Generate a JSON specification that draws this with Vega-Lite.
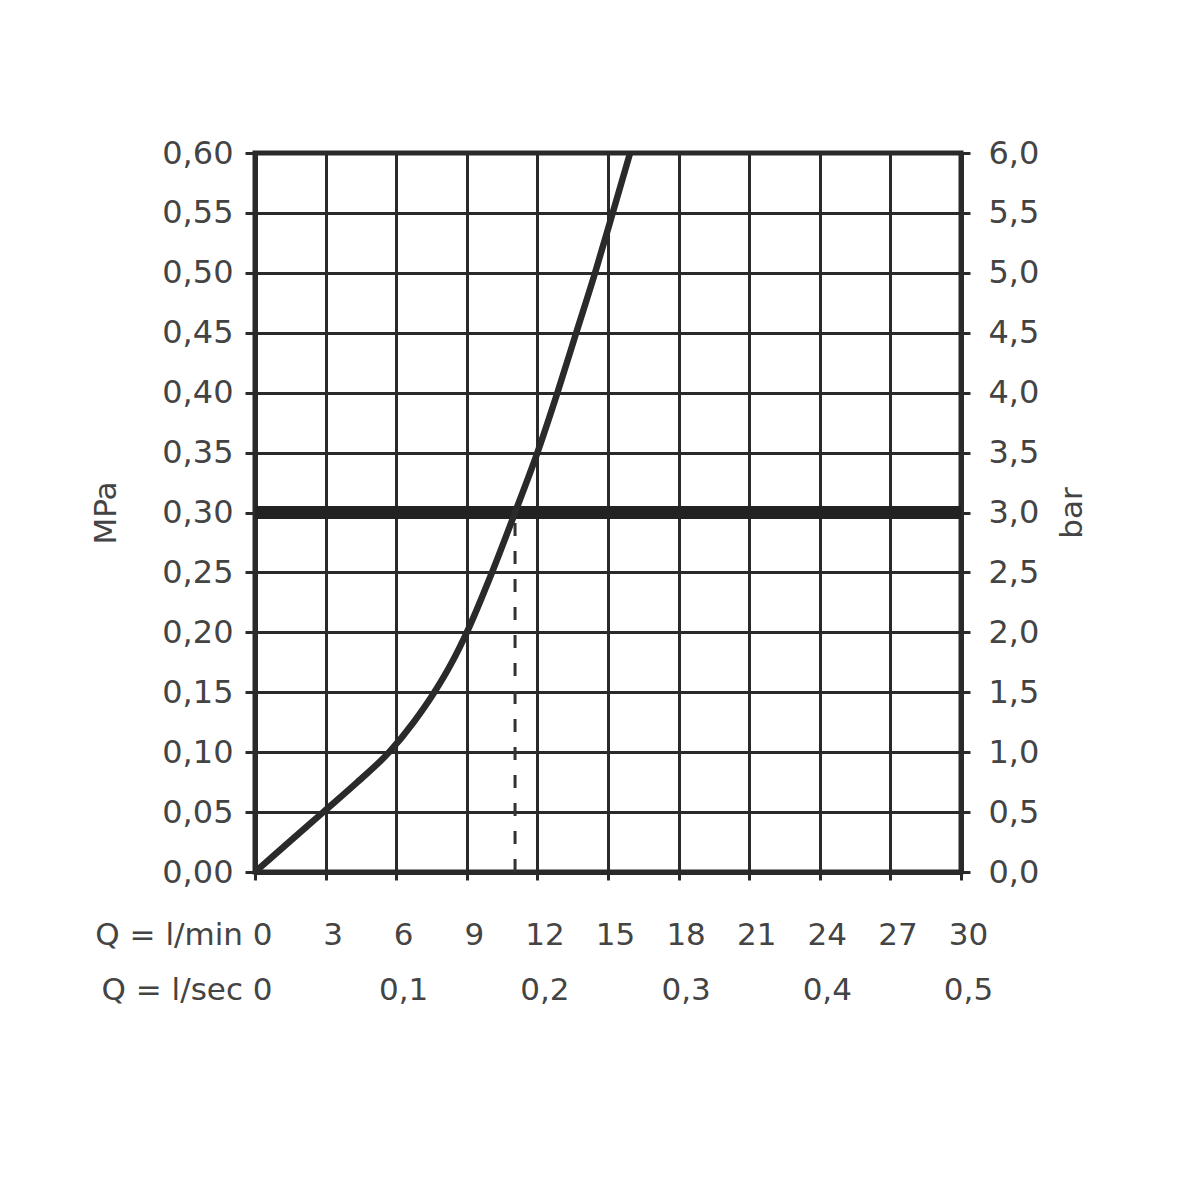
{
  "$schema": "https://vega.github.io/schema/vega-lite/v6.json",
  "width": 706,
  "height": 719,
  "autosize": {"type": "none"},
  "padding": {"left": 255, "top": 153, "right": 239, "bottom": 328},
  "background": "white",
  "config": {
    "view": {"stroke": "#2a2a2a", "strokeWidth": 5},
    "axis": {
      "labelFont": "DejaVu Sans",
      "titleFont": "DejaVu Sans",
      "labelColor": "#444444",
      "titleColor": "#444444",
      "labelFontSize": 31,
      "titleFontSize": 31,
      "titleFontWeight": "normal",
      "domainColor": "#2a2a2a",
      "domainWidth": 5,
      "tickColor": "#2a2a2a",
      "tickWidth": 3,
      "gridColor": "#2a2a2a",
      "gridWidth": 3,
      "gridOpacity": 1
    }
  },
  "datasets": {
    "curve": [
      {"q": 0, "p": 0},
      {"q": 1.45, "p": 0.025},
      {"q": 2.9, "p": 0.05},
      {"q": 4.35, "p": 0.075},
      {"q": 5.7, "p": 0.1},
      {"q": 6.74, "p": 0.125},
      {"q": 7.62, "p": 0.15},
      {"q": 8.37, "p": 0.175},
      {"q": 9.0, "p": 0.2},
      {"q": 10.07, "p": 0.25},
      {"q": 11.05, "p": 0.3},
      {"q": 12.0, "p": 0.35},
      {"q": 12.85, "p": 0.4},
      {"q": 13.65, "p": 0.45},
      {"q": 14.45, "p": 0.5},
      {"q": 15.2, "p": 0.55},
      {"q": 15.94, "p": 0.6}
    ],
    "limit": [{"p": 0.3}],
    "marker": [{"q": 11.05, "p0": 0, "p1": 0.3}]
  },
  "layer": [
    {
      "data": {"name": "marker"},
      "mark": {"type": "rule", "stroke": "#333333", "strokeWidth": 3, "strokeDash": [13, 15]},
      "encoding": {
        "x": {
          "field": "q", "type": "quantitative",
          "scale": {"domain": [0, 30]},
          "axis": {
            "orient": "bottom",
            "values": [0, 3, 6, 9, 12, 15, 18, 21, 24, 27, 30],
            "grid": true,
            "title": null,
            "tickSize": 8,
            "labelPadding": 40,
            "labelFlush": false,
            "labelOverlap": false,
            "labelBound": false,
            "labelLineHeight": 55,
            "labelExpr": "datum.value == 0 ? ['Q = l/min 0', 'Q = l/sec 0'] : [format(datum.value, 'd'), datum.value % 6 == 0 ? replace(format(datum.value / 60, '.1f'), '.', ',') : '']",
            "labelAlign": {"condition": {"test": "datum.value == 0", "value": "right"}, "value": "center"},
            "labelOffset": {"condition": {"test": "datum.value == 0", "value": 17}, "value": 7}
          }
        },
        "y": {
          "field": "p0", "type": "quantitative",
          "scale": {"domain": [0, 0.6]},
          "axis": {
            "orient": "left",
            "values": [0, 0.05, 0.1, 0.15, 0.2, 0.25, 0.3, 0.35, 0.4, 0.45, 0.5, 0.55, 0.6],
            "grid": true,
            "title": "MPa",
            "tickSize": 10,
            "labelPadding": 12,
            "titlePadding": 39,
            "labelFontSize": 32,
            "labelExpr": "replace(format(datum.value, '.2f'), '.', ',')"
          }
        },
        "y2": {"field": "p1"}
      }
    },
    {
      "data": {"name": "limit"},
      "mark": {"type": "rule", "stroke": "#222222", "strokeWidth": 13},
      "encoding": {
        "y": {
          "field": "p", "type": "quantitative",
          "scale": {"domain": [0, 0.6]},
          "axis": {
            "orient": "right",
            "values": [0, 0.05, 0.1, 0.15, 0.2, 0.25, 0.3, 0.35, 0.4, 0.45, 0.5, 0.55, 0.6],
            "grid": false,
            "title": "bar",
            "titleAngle": 270,
            "titleBaseline": "top",
            "tickSize": 9,
            "labelPadding": 18,
            "titlePadding": 19,
            "labelFontSize": 32,
            "labelExpr": "replace(format(datum.value * 10, '.1f'), '.', ',')"
          }
        }
      }
    },
    {
      "data": {"name": "curve"},
      "mark": {"type": "line", "interpolate": "monotone", "stroke": "#2a2a2a", "strokeWidth": 6.5, "clip": true},
      "encoding": {
        "x": {"field": "q", "type": "quantitative", "scale": {"domain": [0, 30]}},
        "y": {"field": "p", "type": "quantitative", "scale": {"domain": [0, 0.6]}, "axis": null}
      }
    }
  ],
  "resolve": {"scale": {"y": "independent"}}
}
